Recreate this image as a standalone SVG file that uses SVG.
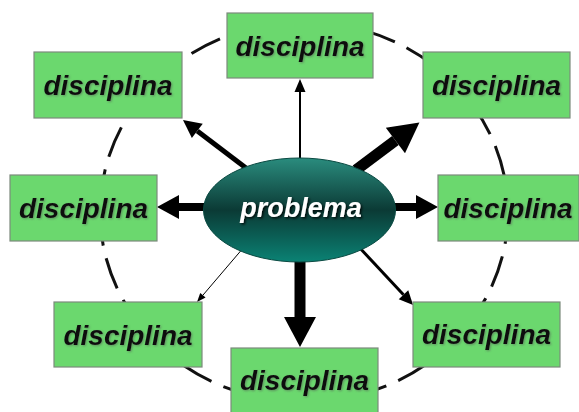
<svg xmlns="http://www.w3.org/2000/svg" width="579" height="412" viewBox="0 0 579 412">
<style>
.box rect{fill:#6bd86e;stroke:#7c8a7c;stroke-width:1.2}
.box text{font-family:"Liberation Sans",Arial,sans-serif;font-weight:bold;font-style:italic;font-size:28px;fill:#111;text-anchor:middle;filter:url(#sh)}
.ring{fill:none;stroke:#111;stroke-width:3;stroke-dasharray:32 13}
.c{stroke:#000;fill:none}
.ptext{font-family:"Liberation Sans",Arial,sans-serif;font-weight:bold;font-style:italic;font-size:27px;fill:#fff;text-anchor:middle;filter:url(#sh2)}
</style>
<defs>
<linearGradient id="eg" x1="0" y1="0" x2="0" y2="1">
<stop offset="0" stop-color="#2a8c7e"/>
<stop offset="0.5" stop-color="#0b3a35"/>
<stop offset="1" stop-color="#0b8274"/>
</linearGradient>
<filter id="sh" x="-10%" y="-20%" width="120%" height="140%">
<feDropShadow dx="1" dy="1" stdDeviation="0.8" flood-color="#556655" flood-opacity="0.6"/>
</filter>
<filter id="sh2" x="-10%" y="-20%" width="120%" height="140%">
<feDropShadow dx="1.5" dy="1.5" stdDeviation="0.8" flood-color="#000" flood-opacity="0.8"/>
</filter>
<marker id="hS" markerUnits="userSpaceOnUse" orient="auto" refX="0" refY="0" markerWidth="14" markerHeight="12" overflow="visible"><path d="M0,-5.5 L13,0 L0,5.5 Z" fill="#000"/></marker>
<marker id="hXS" markerUnits="userSpaceOnUse" orient="auto" refX="0" refY="0" markerWidth="10" markerHeight="8" overflow="visible"><path d="M0,-3.5 L9,0 L0,3.5 Z" fill="#000"/></marker>
<marker id="hM" markerUnits="userSpaceOnUse" orient="auto" refX="0" refY="0" markerWidth="18" markerHeight="18" overflow="visible"><path d="M0,-9 L18,0 L0,9 Z" fill="#000"/></marker>
<marker id="hM2" markerUnits="userSpaceOnUse" orient="auto" refX="0" refY="0" markerWidth="14" markerHeight="14" overflow="visible"><path d="M0,-6.5 L14,0 L0,6.5 Z" fill="#000"/></marker>
<marker id="hL" markerUnits="userSpaceOnUse" orient="auto" refX="0" refY="0" markerWidth="24" markerHeight="24" overflow="visible"><path d="M0,-12 L22,0 L0,12 Z" fill="#000"/></marker>
<marker id="hXL" markerUnits="userSpaceOnUse" orient="auto" refX="0" refY="0" markerWidth="32" markerHeight="32" overflow="visible"><path d="M0,-16 L30,0 L0,16 Z" fill="#000"/></marker>
</defs>
<rect width="579" height="412" fill="#fff"/>
<ellipse class="ring" cx="304" cy="212" rx="204" ry="190"/>
<g id="connectors">
<line class="c" x1="300" y1="170" x2="300" y2="92" stroke-width="2" marker-end="url(#hS)"/>
<line class="c" x1="246" y1="168" x2="197.3" y2="130.9" stroke-width="5" marker-end="url(#hM)"/>
<line class="c" x1="356" y1="170" x2="395.4" y2="140.5" stroke-width="11" marker-end="url(#hXL)"/>
<line class="c" x1="215" y1="207" x2="179" y2="207" stroke-width="8" marker-end="url(#hL)"/>
<line class="c" x1="385" y1="207" x2="416" y2="207" stroke-width="8" marker-end="url(#hL)"/>
<line class="c" x1="244" y1="247" x2="202.9" y2="295.2" stroke-width="1" marker-end="url(#hXS)"/>
<line class="c" x1="300" y1="250" x2="300" y2="317" stroke-width="11" marker-end="url(#hXL)"/>
<line class="c" x1="358" y1="246" x2="403.5" y2="294.7" stroke-width="3" marker-end="url(#hM2)"/>
</g>
<g id="problema">
<ellipse cx="299.5" cy="210" rx="96" ry="52" fill="url(#eg)" stroke="#0a4a42" stroke-width="1"/>
<text class="ptext" x="301" y="217">problema</text>
</g>
<g id="disc-top" class="box"><rect x="227" y="13" width="146" height="65"/><text x="300" y="56">disciplina</text></g>
<g id="disc-topleft" class="box"><rect x="34" y="52" width="148" height="66"/><text x="108" y="95">disciplina</text></g>
<g id="disc-topright" class="box"><rect x="423" y="52" width="147" height="66"/><text x="496.5" y="95">disciplina</text></g>
<g id="disc-left" class="box"><rect x="10" y="175" width="147" height="66"/><text x="83.5" y="218">disciplina</text></g>
<g id="disc-right" class="box"><rect x="438" y="175" width="141" height="66"/><text x="508" y="218">disciplina</text></g>
<g id="disc-bottomleft" class="box"><rect x="54" y="302" width="148" height="65"/><text x="128" y="345">disciplina</text></g>
<g id="disc-bottomright" class="box"><rect x="413" y="302" width="147" height="65"/><text x="486.5" y="344">disciplina</text></g>
<g id="disc-bottom" class="box"><rect x="231" y="348" width="147" height="66"/><text x="304.5" y="390">disciplina</text></g>
</svg>
